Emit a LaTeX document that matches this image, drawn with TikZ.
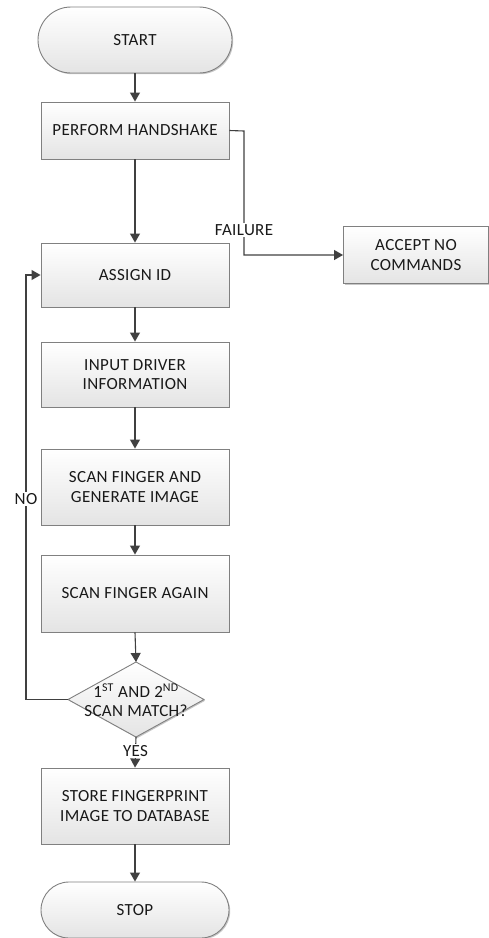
\documentclass[tikz,border=0pt]{standalone}
\usepackage{fontspec}
\setmainfont{Carlito}[LetterSpace=2]
\usetikzlibrary{arrows.meta,shadows}
\definecolor{linec}{HTML}{404040}
\definecolor{borderc}{HTML}{808080}
\definecolor{botc}{HTML}{E4E4E4}
\begin{document}
\begin{tikzpicture}[x=1pt,y=-1pt,
  every node/.style={font=\fontsize{17}{19.3}\selectfont, text=black!90},
  procbox/.style={draw=borderc, line width=0.9pt, top color=white, bottom color=botc,
    minimum width=188pt, inner sep=0pt, align=center,
    drop shadow={shadow xshift=1.2pt, shadow yshift=-1.2pt, fill=black!22, opacity=1}},
  termbox/.style={procbox, rounded corners=28pt},
  conn/.style={draw=linec, line width=1.1pt, -{Triangle[length=9pt,width=10pt]}},
  lbl/.style={fill=white, inner sep=1.5pt}
]
\useasboundingbox (0,0) rectangle (489,938);

\node[termbox, minimum width=194pt, minimum height=66pt, rounded corners=33pt] (start) at (135,40) {START};
\node[procbox, minimum height=57pt] (hs) at (135,130.5) {PERFORM HANDSHAKE};
\node[procbox, minimum height=64pt] (assign) at (135,275) {ASSIGN ID};
\node[procbox, minimum width=145pt, minimum height=57pt] (accept) at (416,255) {ACCEPT NO\\COMMANDS};
\node[procbox, minimum height=65pt] (input) at (135,374.5) {INPUT DRIVER\\INFORMATION};
\node[procbox, minimum height=76pt] (scan1) at (135,487) {SCAN FINGER AND\\GENERATE IMAGE};
\node[procbox, minimum height=77pt] (scan2) at (135,593.5) {SCAN FINGER AGAIN};
\coordinate (dc) at (136,699.5);
\coordinate (dtop) at (136,662);
\coordinate (dbot) at (136,737);
\coordinate (dleft) at (68,699.5);
\coordinate (dright) at (204,699.5);
\path[draw=borderc, line width=0.9pt, top color=white, bottom color=botc,
  drop shadow={shadow xshift=1.2pt, shadow yshift=-1.2pt, fill=black!22, opacity=1}]
  (dtop) -- (dright) -- (dbot) -- (dleft) -- cycle;
\node[align=center, inner sep=0pt] (dtext) at (136,700) {1\textsuperscript{ST} AND 2\textsuperscript{ND}\\SCAN MATCH?};
\node[procbox, minimum height=76pt] (store) at (135,806) {STORE FINGERPRINT\\IMAGE TO DATABASE};
\node[termbox, minimum height=56pt] (stop) at (135,910) {STOP};

\draw[conn] (start) -- (hs);
\draw[conn] (hs) -- (assign);
\draw[conn] (assign) -- (input);
\draw[conn] (input) -- (scan1);
\draw[conn] (scan1) -- (scan2);
\draw[conn] (scan2.south) -- (dtop);
\draw[conn] (dbot) -- (store.north) node[lbl, pos=0.45] (yes) {YES};
\draw[conn] (store) -- (stop);

\coordinate (fx) at (244,131);
\draw[conn] (hs.east) -- (fx) |- (accept.west);
\node[lbl] (fail) at (244,230) {FAILURE};

\coordinate (lx) at (26,500);
\draw[conn] (dleft) -| (lx) |- (assign.west);
\node[lbl] (no) at (26,499) {NO};
\end{tikzpicture}
\end{document}
